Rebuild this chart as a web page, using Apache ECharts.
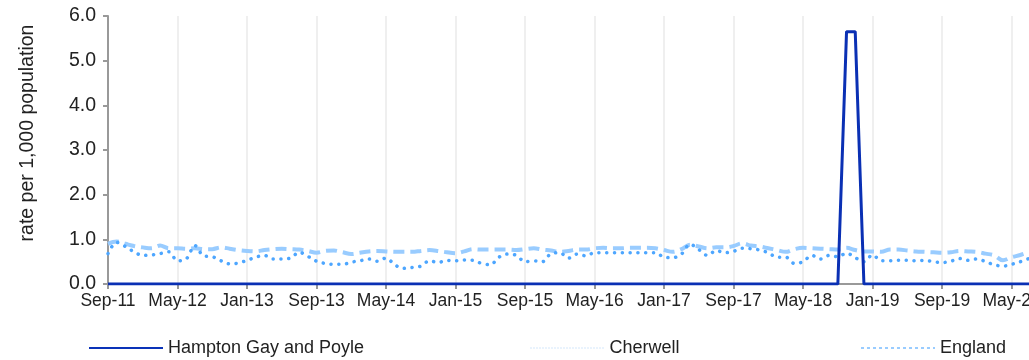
<!DOCTYPE html>
<html>
<head>
<meta charset="utf-8">
<script src="https://cdn.jsdelivr.net/npm/echarts@6/dist/echarts.min.js"></script>
<style>
  html, body { margin: 0; padding: 0; background: #ffffff; }
  #chart { width: 1029px; height: 360px; }
</style>
</head>
<body>
<div id="chart"></div>
<script>
// Monthly rates per 1,000 population, Sep 2011 to Jul 2020
const startYear = 2011;
const startMonth = 8; // September (0-based)
const monthCount = 107;
const monthNames = ['Jan','Feb','Mar','Apr','May','Jun','Jul','Aug','Sep','Oct','Nov','Dec'];

const categories = [];
for (let i = 0; i < monthCount; i++) {
  const m = (startMonth + i) % 12;
  const y = startYear + Math.floor((startMonth + i) / 12);
  categories.push(monthNames[m] + '-' + String(y % 100).padStart(2, '0'));
}

const hamptonGayAndPoyle = [
  0,0,0,0,0,0,0,0,0,0,0,0,0,0,0,0,0,0,
  0,0,0,0,0,0,0,0,0,0,0,0,0,0,0,0,0,0,
  0,0,0,0,0,0,0,0,0,0,0,0,0,0,0,0,0,
  0,0,0,0,0,0,0,0,0,0,0,0,0,0,0,0,0,0,
  0,0,0,0,0,0,0,0,0,0,0,0,0,0,5.65,5.65,0,0,
  0,0,0,0,0,0,0,0,0,0,0,0,0,0,0,0,0,0
];

const cherwell = [
  0.68,0.93,0.84,0.72,0.64,0.65,0.68,0.72,0.52,0.56,0.86,0.63,0.61,0.52,0.45,0.47,0.53,0.60,
  0.64,0.56,0.56,0.58,0.71,0.62,0.51,0.46,0.44,0.44,0.49,0.52,0.56,0.51,0.58,0.43,0.35,0.37,
  0.40,0.52,0.48,0.53,0.52,0.54,0.53,0.46,0.43,0.60,0.67,0.64,0.50,0.52,0.50,0.68,0.70,
  0.58,0.67,0.63,0.70,0.70,0.70,0.70,0.70,0.70,0.70,0.70,0.60,0.59,0.67,0.89,0.77,0.64,0.75,
  0.70,0.73,0.80,0.79,0.76,0.70,0.60,0.60,0.46,0.50,0.64,0.56,0.64,0.61,0.69,0.59,0.50,0.65,
  0.52,0.52,0.53,0.53,0.52,0.53,0.50,0.48,0.51,0.57,0.53,0.56,0.50,0.43,0.40,0.44,0.50,0.57
];

const england = [
  0.90,0.95,0.90,0.85,0.82,0.80,0.86,0.80,0.80,0.79,0.80,0.78,0.78,0.82,0.79,0.76,0.74,0.73,
  0.76,0.78,0.79,0.78,0.77,0.74,0.70,0.74,0.75,0.71,0.67,0.70,0.73,0.74,0.73,0.72,0.72,0.72,
  0.74,0.76,0.74,0.71,0.69,0.73,0.78,0.77,0.77,0.77,0.77,0.76,0.78,0.80,0.77,0.75,0.72,
  0.74,0.77,0.77,0.80,0.81,0.80,0.80,0.81,0.81,0.81,0.80,0.76,0.72,0.78,0.88,0.84,0.80,0.82,
  0.82,0.85,0.91,0.86,0.84,0.80,0.76,0.72,0.78,0.81,0.80,0.79,0.78,0.77,0.81,0.76,0.73,0.73,
  0.72,0.77,0.77,0.75,0.73,0.72,0.71,0.70,0.71,0.74,0.73,0.72,0.68,0.64,0.53,0.60,0.65,0.72
];

const yTicks = { min: 0, max: 6, interval: 1 };
const labelEvery = 8; // one axis label every eight months

const FONT = 'Liberation Sans, Arial, sans-serif';
const TEXT = '#222222';

const chart = echarts.init(document.getElementById('chart'), null, { renderer: 'canvas' });

function legendAt(name, left, lineStyle) {
  return {
    data: [name],
    left: left,
    top: 334,
    itemWidth: 74,
    itemHeight: 14,
    itemGap: 8,
    itemStyle: { opacity: 0 },
    lineStyle: lineStyle,
    textStyle: { fontFamily: FONT, fontSize: 18, color: TEXT },
    selectedMode: false
  };
}

chart.setOption({
  animation: false,
  backgroundColor: '#ffffff',
  grid: { left: 108, right: 0, top: 16, bottom: 76, outerBoundsMode: 'none' },
  legend: [
    legendAt('Hampton Gay and Poyle', 83, { color: '#0a33b8', width: 2, type: 'solid' }),
    legendAt('Cherwell', 525, { color: '#cfe5fb', width: 1, type: [1, 2] }),
    legendAt('England', 855, { color: '#99ccff', width: 2, type: [3, 3] })
  ],
  xAxis: {
    type: 'category',
    data: categories,
    boundaryGap: false,
    axisLine: { show: true, lineStyle: { color: '#999999', width: 2 } },
    axisTick: { show: true, interval: labelEvery - 1, length: 5, lineStyle: { color: '#999999', width: 2 } },
    axisLabel: {
      interval: labelEvery - 1,
      margin: 8,
      fontFamily: FONT,
      fontSize: 17.5,
      color: TEXT,
      hideOverlap: false
    },
    splitLine: { show: true, interval: labelEvery - 1, lineStyle: { color: '#efefef', width: 2 } }
  },
  yAxis: {
    type: 'value',
    min: yTicks.min,
    max: yTicks.max,
    interval: yTicks.interval,
    name: 'rate per 1,000 population',
    nameLocation: 'middle',
    nameRotate: 90,
    nameGap: 70,
    nameTextStyle: { fontFamily: FONT, fontSize: 19.5, color: TEXT, padding: [0, 0, 0, 34] },
    axisLine: { show: true, lineStyle: { color: '#999999', width: 2 } },
    axisTick: { show: true, length: 5, lineStyle: { color: '#999999', width: 2 } },
    axisLabel: {
      margin: 12,
      fontFamily: FONT,
      fontSize: 19.5,
      color: TEXT,
      formatter: v => v.toFixed(1)
    },
    splitLine: { show: false }
  },
  series: [
    {
      name: 'England',
      type: 'line',
      data: england,
      smooth: 0.35,
      showSymbol: false,
      symbol: 'none',
      color: '#99ccff',
      lineStyle: { color: '#99ccff', width: 4, type: [11, 6] },
      z: 2
    },
    {
      name: 'Cherwell',
      type: 'line',
      data: cherwell,
      smooth: 0.35,
      showSymbol: false,
      symbol: 'none',
      color: '#4da6ff',
      lineStyle: { color: '#4da6ff', width: 3.5, type: [0.1, 7.7], cap: 'round' },
      z: 3
    },
    {
      name: 'Hampton Gay and Poyle',
      type: 'line',
      data: hamptonGayAndPoyle,
      showSymbol: false,
      symbol: 'none',
      color: '#0a33b8',
      lineStyle: { color: '#0a30b4', width: 3 },
      z: 4
    }
  ]
});
</script>
</body>
</html>
